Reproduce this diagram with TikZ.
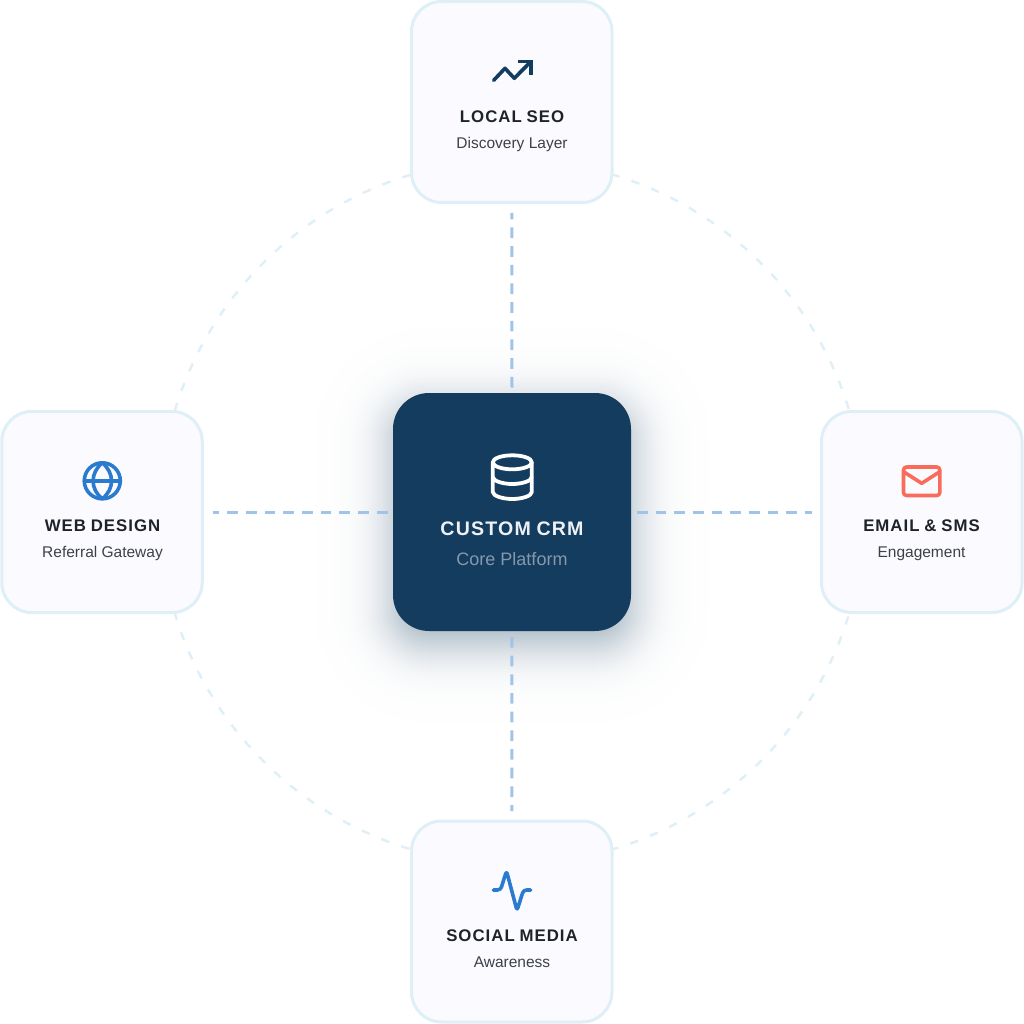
\documentclass[tikz,border=0pt]{standalone}
\usepackage{fontspec}
\setmainfont{Liberation Sans}
\newfontfamily\ttlfont[LetterSpace=6.0,WordSpace=0.85]{Liberation Sans Bold}
\definecolor{navy}{HTML}{143C5F}
\definecolor{cardline}{HTML}{DFEFF7}
\definecolor{cardfill}{HTML}{FBFBFF}
\definecolor{connblue}{HTML}{A0C4E8}
\definecolor{ttlink}{HTML}{1E2329}
\definecolor{subink}{HTML}{3C4148}
\definecolor{iconblue}{HTML}{2A7BD0}
\definecolor{iconred}{HTML}{F96C5B}
\definecolor{crmtitle}{HTML}{EDF1F5}
\definecolor{crmsub}{HTML}{8499AC}
\tikzset{
  card/.style={draw=cardline,fill=cardfill,line width=3pt,rounded corners=30pt,minimum width=200.5pt,minimum height=201pt,inner sep=0pt,outer sep=0pt},
  core/.style={fill=navy,rounded corners=36pt,minimum width=238pt,minimum height=238pt,inner sep=0pt,outer sep=0pt},
  conn/.style={draw=connblue,line width=3pt,dash pattern=on 10.67pt off 8pt},
  orbit/.style={draw=cardline,line width=2.4pt,dash pattern=on 8.5pt off 12.7pt},
  ttl/.style={anchor=base,inner sep=0pt,text=ttlink,font=\fontsize{16.8}{20}\selectfont\ttlfont},
  sub/.style={anchor=base,inner sep=0pt,text=subink,font=\fontsize{15.5}{18}\selectfont},
  icon/.style={line width=3.6pt,line cap=round,line join=round},
}
\begin{document}
\begin{tikzpicture}[x=1pt,y=-1pt]
\useasboundingbox (0,0) rectangle (1024,1024);
\fill[white] (0,0) rectangle (1024,1024);
% soft shadow of the centre card: opaque bands, outermost first
\foreach \i in {90,89,...,-14}{
  \pgfmathsetmacro{\mixval}{100*0.42/(1+exp(1.7*\i/25))}
  \pgfmathsetmacro{\rad}{36+\i}
  \fill[navy!\mixval!white,rounded corners=\rad pt] (393-\i,406-\i) rectangle (631+\i,644+\i);
}
\coordinate (hub) at (512,512);
\draw[orbit] (hub) circle (352);
\node[card] (seo) at (511.75,102) {};
\node[card] (web) at (102,512) {};
\node[card] (mail) at (921.75,512) {};
\node[card] (social) at (511.75,921.5) {};
\node[core] (crm) at (512,512) {};
% connectors
\draw[conn,shorten <=5.5pt,shorten >=10.5pt] (crm.north) -- (seo.south);
\draw[conn,shorten <=5.5pt,shorten >=10.5pt] (crm.west) -- (web.east);
\draw[conn,shorten <=6pt,shorten >=10pt] (crm.east) -- (mail.west);
\draw[conn,shorten <=6pt,shorten >=10pt] (crm.south) -- (social.north);
% texts
\node[ttl] (seot) at (512,122.7) {LOCAL SEO};
\node[sub] (seos) at (512,148.3) {Discovery Layer};
\node[ttl] (webt) at (102.5,531.7) {WEB DESIGN};
\node[sub] (webs) at (102.5,557.7) {Referral Gateway};
\node[ttl] (mailt) at (921.5,531.7) {EMAIL \& SMS};
\node[sub] (mails) at (921.5,557.7) {Engagement};
\node[ttl] (socialt) at (512,941.7) {SOCIAL MEDIA};
\node[sub] (socials) at (512,967.3) {Awareness};
\node[ttl,text=crmtitle,font=\fontsize{19.6}{22}\selectfont\ttlfont] (crmt) at (512,535) {CUSTOM CRM};
\node[sub,text=crmsub,font=\fontsize{18}{20}\selectfont] (crms) at (512,565) {Core Platform};
% chart icon
\draw[icon,navy] (493.7,80.3) -- (505,68.3) -- (514.3,78.3) -- (530.7,61.7);
\draw[icon,navy,line cap=butt,line join=miter] (517.5,61.7) -- (530.7,61.7) -- (530.7,75);
% database icon
\draw[icon,white,line width=3.8pt] (512.3,462.3) ellipse (19.5 and 7);
\draw[icon,white,line width=3.8pt] (492.8,462.3) -- (492.8,492) .. controls (492.8,496) and (503,499) .. (512.3,499) .. controls (521.6,499) and (531.8,496) .. (531.8,492) -- (531.8,462.3);
\draw[icon,white,line width=3.8pt] (492.8,477) .. controls (492.8,481) and (503,484) .. (512.3,484) .. controls (521.6,484) and (531.8,481) .. (531.8,477);
% globe icon
\draw[icon,iconblue] (102.3,480.8) circle (18);
\draw[icon,iconblue] (84.3,480.8) -- (120.3,480.8);
\draw[icon,iconblue] (102.3,462.8) .. controls (90,473) and (90,489) .. (102.3,498.8) .. controls (114.6,489) and (114.6,473) .. (102.3,462.8);
% mail icon
\draw[icon,iconred,rounded corners=3pt] (903.5,467) rectangle (939.8,495.5);
\draw[icon,iconred] (903.5,471.7) -- (921.7,483.3) -- (939.8,471.7);
% pulse icon
\draw[icon,iconblue,rounded corners=3pt] (493.3,890) -- (500.5,890) -- (506.5,871) -- (517,910.5) -- (523.5,890) -- (530.7,890);
\end{tikzpicture}
\end{document}
